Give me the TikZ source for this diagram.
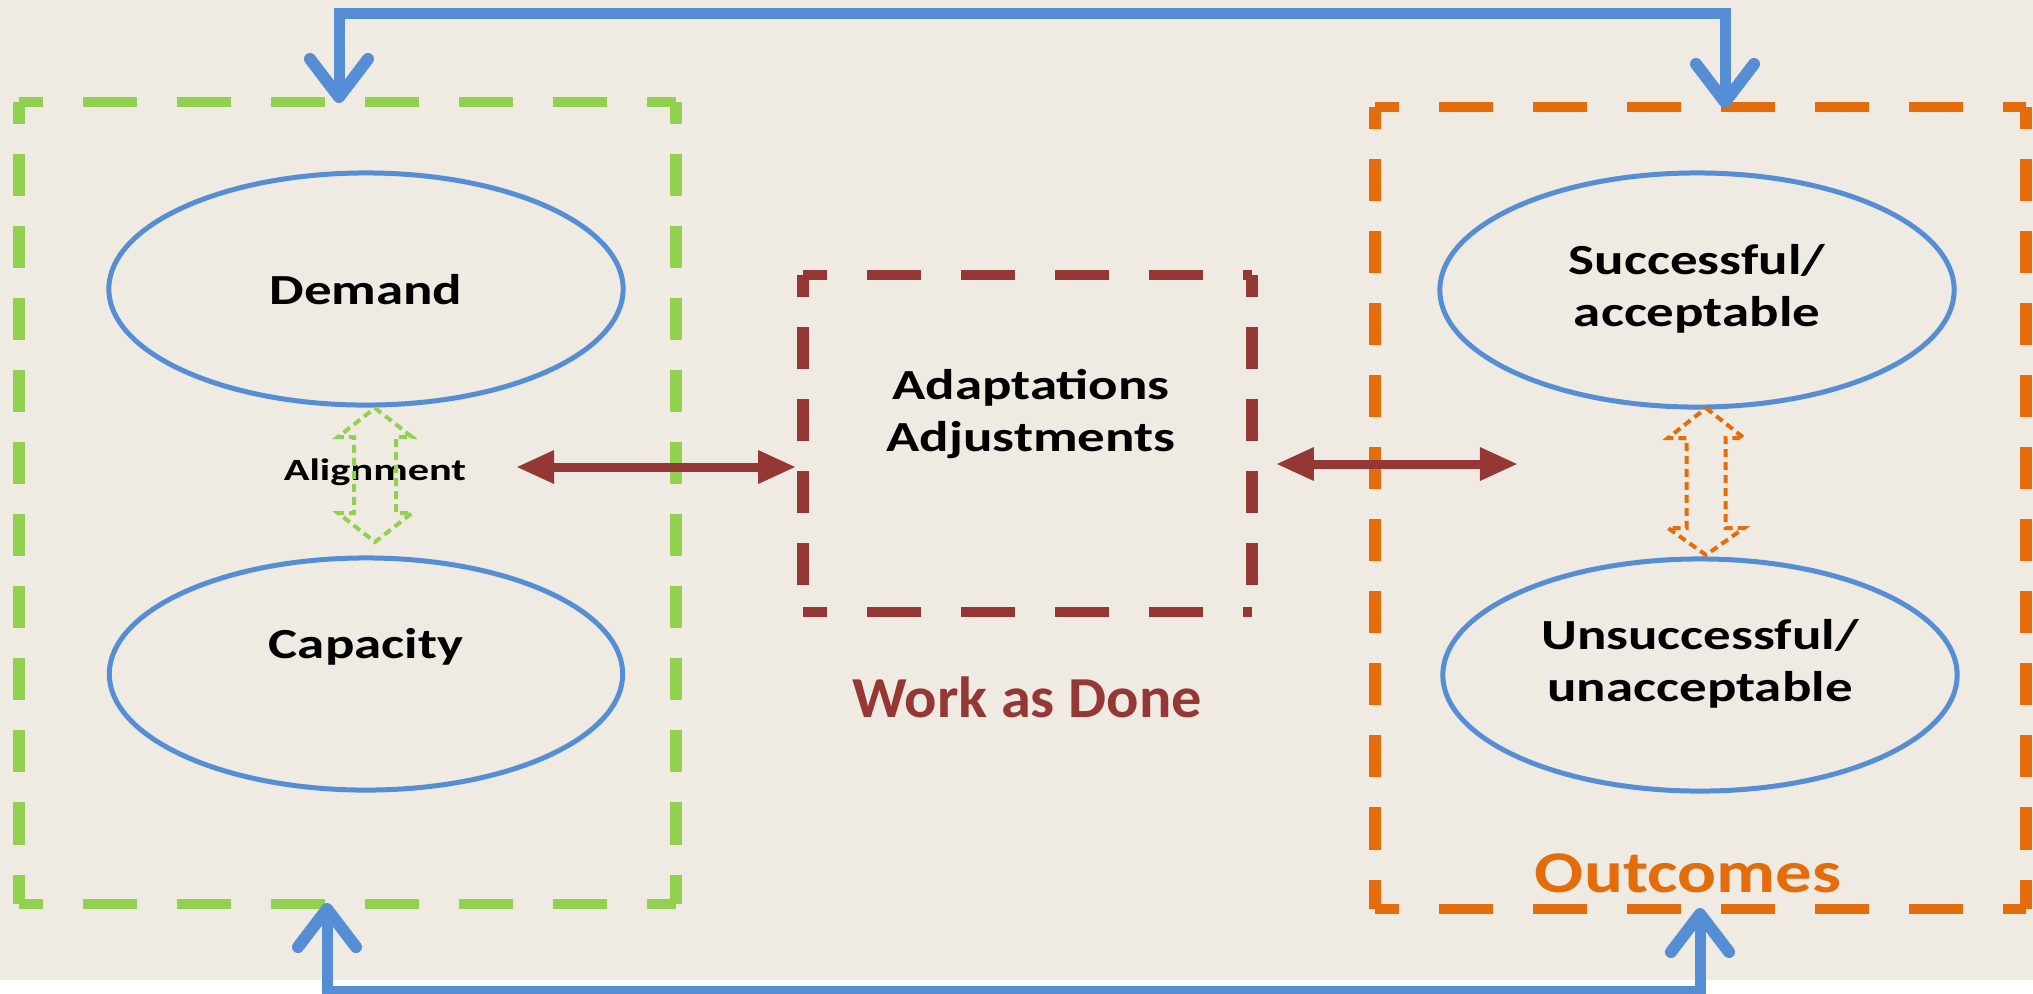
\documentclass[tikz,border=0pt]{standalone}
\usepackage{fontspec}
\setmainfont{Carlito}
\usetikzlibrary{arrows.meta,shapes.geometric}

\definecolor{paper}{RGB}{239,235,227}
\definecolor{leafgreen}{RGB}{146,208,80}
\definecolor{amber}{RGB}{228,108,10}
\definecolor{brick}{RGB}{149,55,53}
\definecolor{sky}{RGB}{85,142,213}

\begin{document}
\begin{tikzpicture}[x=0.01cm,y=-0.01cm,
  frame/.style={draw=none,inner sep=0pt,rectangle},
  hside/.style={line width=0.10cm,dash pattern=on 0.54cm off 0.40cm},
  vside/.style={line width=0.12cm,dash pattern=on 0.42cm off 0.30cm},
  oval/.style={draw=sky,line width=0.05cm,ellipse,inner sep=0pt},
  label/.style={font=\fontsize{12.2pt}{14.8pt}\selectfont\bfseries,align=center,xscale=1.28,inner sep=0pt},
  loop/.style={draw=sky,line width=0.11cm,
    {Straight Barb[length=0.38cm,width=0.58cm,round,line width=0.12cm]}-{Straight Barb[length=0.38cm,width=0.58cm,round,line width=0.12cm]}},
  link/.style={draw=brick,line width=0.09cm,
    {Triangle[length=0.38cm,width=0.31cm]}-{Triangle[length=0.38cm,width=0.31cm]}},
  hollow/.style={line width=0.04cm,dash pattern=on 0.08cm off 0.05cm,line join=miter}
]
\useasboundingbox (0,0) rectangle (2033,993);
\fill[white] (0,0) rectangle (2033,993);
\fill[paper] (0,0) rectangle (2033,980);

% three grouping frames
\node[frame,minimum width=6.55cm,minimum height=8.00cm] (inputs) at (347.5,503) {};
\node[frame,minimum width=4.47cm,minimum height=3.35cm] (work) at (1027.5,443.5) {};
\node[frame,minimum width=6.49cm,minimum height=8.00cm] (outcomes) at (1700.5,508) {};

\foreach \f/\c in {inputs/leafgreen,work/brick,outcomes/amber}{
  \draw[hside,\c,dash phase=0.30cm] (\f.north west) -- (\f.north east);
  \draw[hside,\c,dash phase=0.30cm] (\f.south west) -- (\f.south east);
  \draw[vside,\c,dash phase=0.20cm] (\f.north west) -- (\f.south west);
  \draw[vside,\c,dash phase=0.20cm] (\f.north east) -- (\f.south east);
}

% ellipses
\node[oval,minimum width=5.14cm,minimum height=2.32cm] (demand) at (366,289) {};
\node[oval,minimum width=5.13cm,minimum height=2.32cm] (capacity) at (366,674) {};
\node[oval,minimum width=5.14cm,minimum height=2.34cm] (success) at (1697,290) {};
\node[oval,minimum width=5.14cm,minimum height=2.32cm] (failure) at (1700,675) {};

% texts
\node[label] (tdemand) at (366,290) {Demand};
\node[label] (tcapacity) at (366,647) {Capacity};
\node[label] (tsuccess) at (1697,289) {Successful/\\acceptable};
\node[label] (tfailure) at (1700,664) {Unsuccessful/\\unacceptable};
\node[label] (tadapt) at (1031,414) {Adaptations\\Adjustments};
\node[font=\fontsize{8.8pt}{10pt}\selectfont\bfseries,xscale=1.37,inner sep=0pt] (talign) at (375,472) {Alignment};
\node[font=\fontsize{16.5pt}{19pt}\selectfont\bfseries,text=brick,xscale=1.04,inner sep=0pt] (twork) at (1027,697) {Work as Done};
\node[font=\fontsize{16.8pt}{19pt}\selectfont\bfseries,text=amber,xscale=1.23,inner sep=0pt] (tout) at (1688,873) {Outcomes};

% hollow dashed two-way arrows
\begin{scope}[shift={(375,475)}]
  \draw[hollow,leafgreen] (0,-67) -- (37,-38) -- (21,-38) -- (21,38) -- (37,38) -- (0,67)
    -- (-37,38) -- (-21,38) -- (-21,-38) -- (-37,-38) -- cycle;
\end{scope}
\begin{scope}[shift={(1706,481.5)}]
  \draw[hollow,amber] (0,-73.5) -- (38,-43.5) -- (19.5,-43.5) -- (19.5,46.5) -- (38,46.5) -- (0,73.5)
    -- (-38,46.5) -- (-19.5,46.5) -- (-19.5,-43.5) -- (-38,-43.5) -- cycle;
\end{scope}

% links to and from the work frame
\coordinate (leftend) at (516,467);
\coordinate (rightend) at (1518,464);
\draw[link,shorten >=0.07cm] (leftend) -- (leftend -| work.west);
\draw[link,shorten <=0.24cm] (rightend -| work.east) -- (rightend);

% feedback loops
\coordinate (intop) at (339,103);
\coordinate (outtop) at (1725,108);
\coordinate (inbot) at (327,903);
\coordinate (outbot) at (1700,908);
\draw[loop,line join=miter] (intop) -- (339,13) -- (1725,13) -- (outtop);
\draw[loop,line join=miter] (inbot) -- (327,991) -- (1700,991) -- (outbot);
\end{tikzpicture}
\end{document}
